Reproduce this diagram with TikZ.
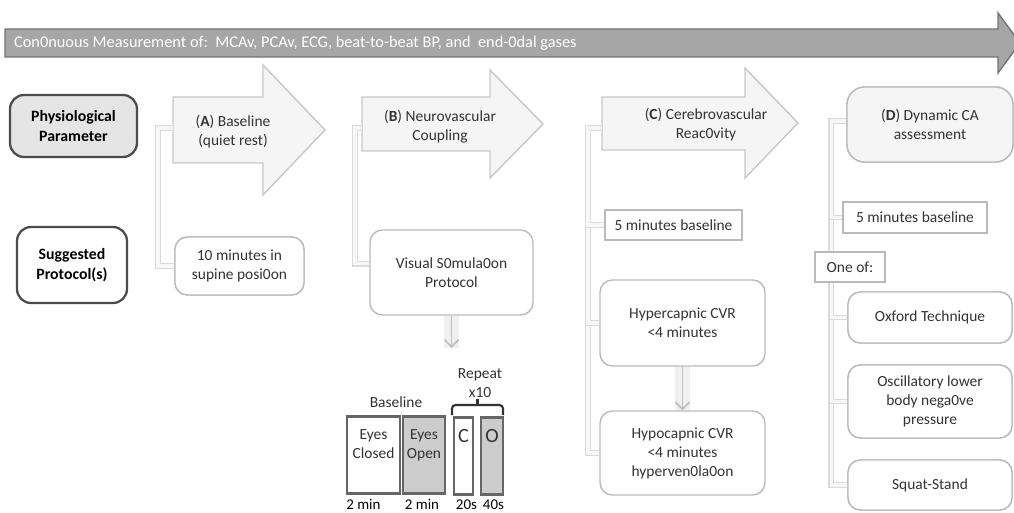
\documentclass[tikz,border=0pt]{standalone}
\usepackage{fontspec}
\setmainfont{Carlito}
\usetikzlibrary{arrows.meta}
\tikzset{every node/.style={font=\fontsize{8.8}{10.8}\selectfont, text=black!80, align=center, inner sep=1pt},
  band/.style={draw=black!55, fill=black!35, line width=0.8pt},
  stage/.style={draw=black!22, fill=black!4, line width=0.8pt},
  rowlab/.style={draw=black!70, line width=1.3pt, rounded corners=8pt, text=black, font=\fontsize{9}{11}\selectfont\bfseries},
  proto/.style={draw=black!27, fill=white, rounded corners=7pt, line width=0.8pt},
  plain/.style={draw=black!27, fill=white, line width=0.8pt},
  tie/.style={draw=black!14, double=black!3, double distance=2pt, line width=0.7pt},
  flow/.style={draw=black!25, line width=1pt, -{Straight Barb[length=4pt,width=8pt]}, preaction={draw=black!6, line width=8pt, -}},
  slot/.style={draw=black!60, line width=1.2pt, minimum height=1.54cm, inner sep=0pt},
  dur/.style={anchor=north west, text=black, inner sep=0pt, font=\fontsize{8.5}{9}\selectfont}}

\begin{document}
\begin{tikzpicture}[x=0.02cm, y=-0.02cm]
   \useasboundingbox (0,0) rectangle (1014,513);
   % measurement band
   \draw[band] (5,29) -- (998,29) -- (998,13) -- (1020,43) -- (998,73) -- (998,57) -- (5,57) -- cycle;
   \node[anchor=west, text=white, font=\fontsize{9.3}{11}\selectfont] (meas) at (12,43) {Con0nuous Measurement of:\ \ MCAv, PCAv, ECG, beat-to-beat BP, and\ \ end-0dal gases};
   % row labels
   \node[rowlab, fill=black!10, minimum width=2.54cm, minimum height=1.24cm] (phys) at (73.5,126) {Physiological\\Parameter};
   \node[rowlab, fill=white, minimum width=2.2cm, minimum height=1.52cm] (sugg) at (72,265) {Suggested\\Protocol(s)};
   \begin{scope}
    \draw[stage] (173,97) -- (263,97) -- (263,65) -- (325,130) -- (263,195) -- (263,163) -- (173,163) -- cycle;
    \node (pA) at (233,132) {(\textbf{A}) Baseline\\(quiet rest)};
    \coordinate (a0) at (173,128);
    \node[proto, minimum width=2.58cm, minimum height=1.16cm] (protA) at (239.5,266) {};
    \draw[tie] (a0) -- ++(-15,0) |- (protA.west);
    \node[proto, minimum width=2.58cm, minimum height=1.16cm] (protA) at (239.5,266) {10 minutes in\\supine posi0on};
   \end{scope}
   \begin{scope}
    \draw[stage] (362,97) -- (490,97) -- (490,70) -- (543,124) -- (490,178) -- (490,151) -- (362,151) -- cycle;
    \node (pB) at (440,127) {(\textbf{B}) Neurovascular\\Coupling};
    \coordinate (b0) at (362,128);
    \node[proto, minimum width=3.26cm, minimum height=1.7cm] (protB) at (451.5,272.5) {Visual S0mula0on\\Protocol};
    \draw[tie] (b0) -- ++(-7,0) |- ([yshift=5pt]protB.west);
    \coordinate (b1) at (451.5,348);
    \draw[flow] (protB) -- (b1);
    % timeline
    \node[slot, fill=white, minimum width=1.06cm] (ec) at (373.5,455) {};
    \node[slot, fill=black!20, minimum width=0.84cm] (eo) at (424,455) {};
    \node[slot, fill=white, minimum width=0.38cm] (sc) at (463.5,456) {};
    \node[slot, fill=black!20, minimum width=0.44cm] (so) at (492,456) {};
    \node[anchor=north, yshift=-7pt] at (ec.north) {Eyes\\Closed};
    \node[anchor=north, yshift=-7pt] at (eo.north) {Eyes\\Open};
    \node[anchor=north, yshift=-6pt, font=\fontsize{11.5}{12}\selectfont] at (sc.north) {C};
    \node[anchor=north, yshift=-6pt, font=\fontsize{11.5}{12}\selectfont] at (so.north) {O};
    \node[anchor=south] (bl) at (396,410) {Baseline};
    \node (rp) at (480,383) {Repeat\\x10};
    \draw[black!80, line width=1.2pt, rounded corners=2pt] (452,415) -- (452,405) -- (503,405) -- (503,415);
    \draw[black!80, line width=1.2pt] (477.5,405) -- (477.5,399);
    \node[dur] at ([xshift=0pt,yshift=-2.5pt]ec.south west) {2 min};
    \node[dur] at ([xshift=1.5pt,yshift=-2.5pt]eo.south west) {2 min};
    \node[dur] at ([xshift=1.5pt,yshift=-2.5pt]sc.south west) {20s};
    \node[dur] at ([xshift=1.5pt,yshift=-2.5pt]so.south west) {40s};
   \end{scope}
   \begin{scope}
    \draw[stage] (602,97) -- (745,97) -- (745,68) -- (798,123) -- (745,178) -- (745,150) -- (602,150) -- cycle;
    \node (pC) at (706,125) {(\textbf{C}) Cerebrovascular\\Reac0vity};
    \coordinate (c0) at (602,128);
    \node[plain, minimum width=2.74cm, minimum height=0.6cm] (baseC) at (673.5,225) {5 minutes baseline};
    \node[proto, minimum width=3.3cm, minimum height=1.72cm] (hyper) at (682.5,323) {Hypercapnic CVR\\<4 minutes};
    \node[proto, minimum width=3.3cm, minimum height=1.68cm] (hypo) at (682.5,453) {Hypocapnic CVR\\<4 minutes\\hyperven0la0on};
    \draw[tie] (c0) -- ++(-14,0) |- (hypo.west);
    \draw[tie] (c0) -- ++(-14,0) |- (hyper.west);
    \draw[tie] (c0) -- ++(-14,0) |- (baseC.west);
    \draw[flow] (hyper) -- (hypo);
   \end{scope}
   \begin{scope}
    \node[proto, fill=black!4, rounded corners=10pt, minimum width=3.32cm, minimum height=1.5cm] (dynD) at (930,124.5) {(\textbf{D}) Dynamic CA\\assessment};
    \node[plain, minimum width=2.88cm, minimum height=0.62cm] (baseD) at (915,217.5) {5 minutes baseline};
    \node[proto, minimum width=3.28cm, minimum height=1.02cm] (oxf) at (930,317.5) {Oxford Technique};
    \node[proto, minimum width=3.28cm, minimum height=1.46cm] (olb) at (930,401.5) {Oscillatory lower\\body nega0ve\\pressure};
    \node[proto, minimum width=3.28cm, minimum height=1.0cm] (sqs) at (930,485) {Squat-Stand};
    \draw[tie] ([yshift=2pt]dynD.west) -- ++(-15,0) |- (sqs.west);
    \draw[tie] ([yshift=2pt]dynD.west) -- ++(-15,0) |- (olb.west);
    \draw[tie] ([yshift=2pt]dynD.west) -- ++(-15,0) |- (oxf.west);
    \draw[tie] ([yshift=2pt]dynD.west) -- ++(-15,0) |- (baseD.west);
    \node[plain, minimum width=1.4cm, minimum height=0.6cm] (one) at (850,267) {One of:};
    \node[proto, fill=black!4, rounded corners=10pt, minimum width=3.32cm, minimum height=1.5cm] at (dynD) {(\textbf{D}) Dynamic CA\\assessment};
    \node[plain, minimum width=2.88cm, minimum height=0.62cm] at (baseD) {5 minutes baseline};
    \node[proto, minimum width=3.28cm, minimum height=1.02cm] at (oxf) {Oxford Technique};
    \node[proto, minimum width=3.28cm, minimum height=1.46cm] at (olb) {Oscillatory lower\\body nega0ve\\pressure};
    \node[proto, minimum width=3.28cm, minimum height=1.0cm] at (sqs) {Squat-Stand};
   \end{scope}
\end{tikzpicture}
\end{document}
